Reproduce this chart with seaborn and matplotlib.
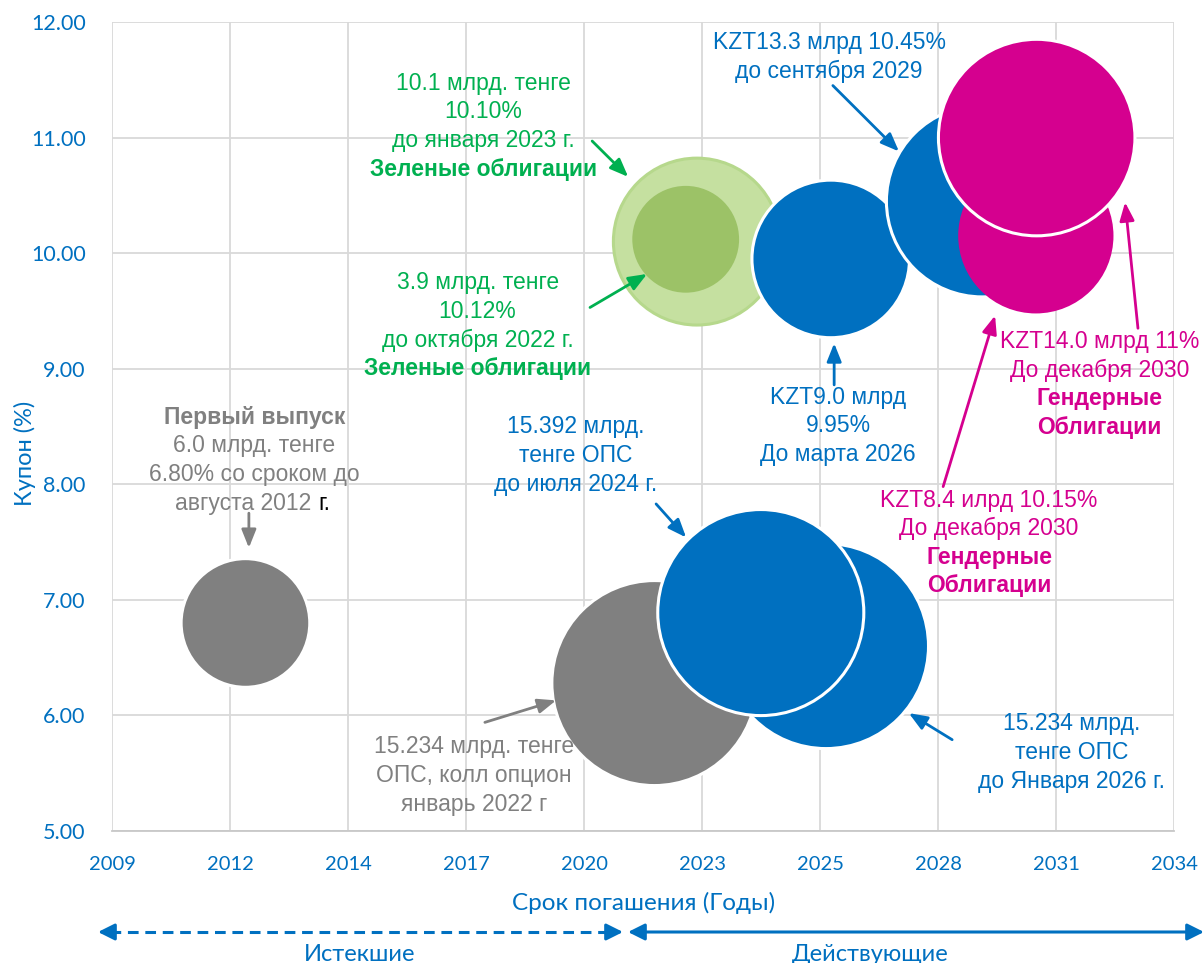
import numpy as np
import pandas as pd
import seaborn as sns
import matplotlib.pyplot as plt

# Данные облигаций: срок погашения (годы), купон (%), объём (млрд тенге)
maturity = [2012.41, 2021.94, 2025.94, 2024.42, 2022.93, 2022.67, 2026.05, 2029.58, 2030.83, 2030.85]
coupon = [6.80, 6.28, 6.60, 6.89, 10.10, 10.12, 9.95, 10.45, 10.15, 11.00]
amount = [6.0, 15.234, 15.234, 15.392, 10.1, 3.9, 9.0, 13.3, 8.4, 14.0]
group = ['first', 'call', 'ops', 'ops', 'green', 'green_small', 'blue', 'blue', 'gender', 'gender']

x_tick_labels = ['2009', '2012', '2014', '2017', '2020', '2023', '2025', '2028', '2031', '2034']
y_ticks = [5, 6, 7, 8, 9, 10, 11, 12]

BLUE = '#0070C0'
MAGENTA = '#D5008F'
GREY = '#808080'
GREEN_TXT = '#00B050'
palette = {'first': GREY, 'call': GREY, 'ops': BLUE, 'green': '#C5E0A0',
           'green_small': '#9CC267', 'blue': BLUE, 'gender': MAGENTA}

df = pd.DataFrame({'maturity': maturity, 'coupon': coupon, 'amount': amount, 'group': group})

sns.set_style('white')
TICK_FONT = ['Lato', 'Noto Sans', 'DejaVu Sans']
ANN_FONT = ['Liberation Sans', 'DejaVu Sans']

fig = plt.figure(figsize=(12.04, 9.63), dpi=100)
ax = fig.add_axes([112 / 1204, 132 / 963, 1062 / 1204, 809 / 963])

sns.scatterplot(data=df, x='maturity', y='coupon', hue='group', palette=palette,
                size='amount', sizes=(0, 16 * 1430), size_norm=(0, 16),
                edgecolor='white', linewidth=2.2, alpha=1, legend=False, ax=ax)

# обводки: у зелёных и малого гендерного пузыря белой обводки нет
pts = ax.collections[0]
edges = ['white'] * len(df)
edges[group.index('green')] = '#B6D88C'
edges[group.index('green_small')] = '#9CC267'
edges[group.index('gender')] = MAGENTA
pts.set_edgecolors(edges)

x0 = 2009.3
step = 2.75
ax.set_xlim(x0, x0 + step * 9)
ax.set_ylim(5, 12)
ax.set_xticks(x0 + step * np.arange(len(x_tick_labels)))
ax.set_xticklabels(x_tick_labels)
ax.set_yticks(y_ticks)
ax.set_yticklabels([f'{v:.2f}' for v in y_ticks])
ax.grid(True, color='#D9D9D9', lw=1.3)
ax.set_axisbelow(True)
for s in ['top', 'right', 'left']:
    ax.spines[s].set_visible(False)
ax.spines['bottom'].set_color('#C8C8C8')
ax.spines['bottom'].set_linewidth(1.3)
ax.tick_params(length=0, labelcolor=BLUE)
ax.tick_params(axis='y', pad=19, labelsize=15.5)
ax.tick_params(axis='x', pad=18, labelsize=14.5)
for lab in ax.get_xticklabels() + ax.get_yticklabels():
    lab.set_family(TICK_FONT)
ax.set_xlabel('')
ax.set_ylabel('')

fig.text(25 / 1204, 1 - 453 / 963, 'Купон (%)', rotation=90, ha='center', va='center',
         color=BLUE, fontsize=17, family=TICK_FONT)
fig.text(644 / 1204, 1 - 903 / 963, 'Срок погашения (Годы)', ha='center', va='center',
         color=BLUE, fontsize=17.5, family=TICK_FONT)

LS = 0.248  # межстрочный интервал в единицах купона


def block(x, y, lines, color):
    for i, (txt, bold) in enumerate(lines):
        ax.text(x, y - i * LS, txt, ha='center', va='center', color=color, fontsize=16.5,
                family=ANN_FONT, fontweight='bold' if bold else 'normal')


def arrow(x1, y1, x2, y2, color, lw=2):
    ax.annotate('', xy=(x2, y2), xytext=(x1, y1),
                arrowprops=dict(arrowstyle='-|>,head_length=0.55,head_width=0.22',
                                color=color, lw=lw, mutation_scale=20,
                                shrinkA=0, shrinkB=0))


block(2017.95, 11.472, [('10.1 млрд. тенге', False), ('10.10%', False),
                        ('до января 2023 г.', False), ('Зеленые облигации', True)], GREEN_TXT)
arrow(2020.49, 10.97, 2021.33, 10.66, GREEN_TXT)

block(2017.82, 9.742, [('3.9 млрд. тенге', False), ('10.12%', False),
                       ('до октября 2022 г.', False), ('Зеленые облигации', True)], GREEN_TXT)
arrow(2020.44, 9.53, 2021.77, 9.82, GREEN_TXT)

block(2012.62, 8.582, [('Первый выпуск', True), ('6.0 млрд. тенге', False),
                       ('6.80% со сроком до', False)], GREY)
ax.text(2014.1, 8.582 - 3 * LS, 'августа 2012 ', ha='right', va='center', color=GREY,
        fontsize=16.5, family=ANN_FONT)
ax.text(2014.1, 8.582 - 3 * LS, 'г.', ha='left', va='center', color='black',
        fontsize=16.5, family=ANN_FONT)
arrow(2012.49, 7.75, 2012.49, 7.45, GREY)

block(2017.74, 5.727, [('15.234 млрд. тенге', False), ('ОПС, колл опцион', False),
                       ('январь 2022 г', False)], GREY)
arrow(2017.99, 5.94, 2019.65, 6.13, GREY)

block(2020.11, 8.496, [('15.392 млрд.', False), ('тенге ОПС', False),
                       ('до июля 2024 г.', False)], BLUE)
arrow(2021.98, 7.83, 2022.68, 7.54, BLUE)

block(2031.67, 5.926, [('15.234 млрд.', False), ('тенге ОПС', False),
                       ('до Января 2026 г.', False)], BLUE)
arrow(2028.88, 5.79, 2027.87, 6.02, BLUE)

block(2026.22, 8.755, [('KZT9.0 млрд', False), ('9.95%', False), ('До марта 2026', False)], BLUE)
arrow(2026.13, 8.86, 2026.13, 9.22, BLUE)

block(2026.01, 11.821, [('KZT13.3 млрд 10.45%', False), ('до сентября 2029', False)], BLUE)
arrow(2026.10, 11.45, 2027.64, 10.88, BLUE)

block(2032.32, 9.234, [('KZT14.0 млрд 11%', False), ('До декабря 2030', False),
                       ('Гендерные', True), ('Облигации', True)], MAGENTA)
arrow(2033.21, 9.35, 2032.91, 10.44, MAGENTA)

block(2029.74, 7.864, [('KZT8.4 илрд 10.15%', False), ('До декабря 2030', False),
                       ('Гендерные', True), ('Облигации', True)], MAGENTA)
arrow(2028.67, 7.98, 2029.88, 9.46, MAGENTA)

# стрелки «Истекшие» / «Действующие» под осью
yb = 963 - 932
head = dict(arrowstyle='-|>,head_length=0.5,head_width=0.25', color=BLUE, lw=2.2,
            mutation_scale=20, shrinkA=0, shrinkB=0)
fig.add_artist(plt.Line2D([110, 612], [yb, yb], transform=None, color=BLUE, lw=2.2,
                          ls=(0, (3.5, 2.2))))
ax.annotate('', xy=(98, yb), xytext=(112, yb), xycoords='figure pixels',
            textcoords='figure pixels', arrowprops=head, annotation_clip=False)
ax.annotate('', xy=(623, yb), xytext=(609, yb), xycoords='figure pixels',
            textcoords='figure pixels', arrowprops=head, annotation_clip=False)
ax.annotate('', xy=(1204, yb), xytext=(628, yb), xycoords='figure pixels',
            textcoords='figure pixels', annotation_clip=False,
            arrowprops=dict(arrowstyle='<|-|>,head_length=0.5,head_width=0.25', color=BLUE,
                            lw=2.2, mutation_scale=20, shrinkA=0, shrinkB=0))
fig.text(360 / 1204, 1 - 954 / 963, 'Истекшие', ha='center', va='center', color=BLUE,
         fontsize=17, family=TICK_FONT)
fig.text(870 / 1204, 1 - 954 / 963, 'Действующие', ha='center', va='center', color=BLUE,
         fontsize=17, family=TICK_FONT)

fig.savefig('out.png', dpi=100)
